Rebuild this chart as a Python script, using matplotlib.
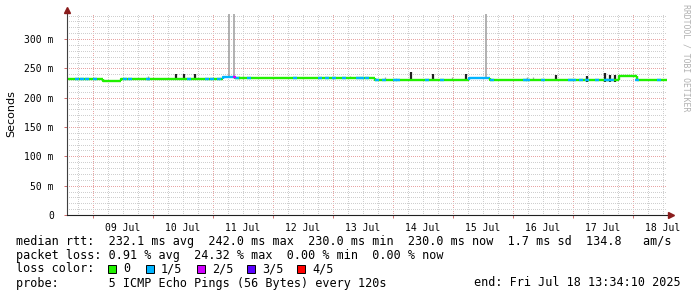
import numpy as np
import matplotlib
matplotlib.use('Agg')
import matplotlib.pyplot as plt
import matplotlib.dates as mdates
from matplotlib.ticker import MultipleLocator, FuncFormatter
from matplotlib.patches import Rectangle
from datetime import datetime, timedelta

# time is hours after the graph start
start = datetime(2025, 7, 8, 13, 34, 10)
span_h = 240

# median rtt, piecewise (start hour, ms, loss class)
seg_start_h = [0, 14.4, 20.4, 21.6, 62.4, 67.2, 73.2, 123.2, 160.8, 169.2, 196.4, 220.8, 228.0]
seg_median_ms = [232.0, 229.0, 228.2, 232.0, 235.8, 233.2, 233.8, 230.8, 234.0, 230.8, 229.6, 237.6, 230.2]
seg_loss = [0, 0, 0, 0, 1, 0, 0, 0, 1, 0, 0, 0, 0]

# short 1/5 and 2/5 loss bits on the median line
speck_h = [4.0, 6.0, 8.0, 11.2, 23.2, 25.2, 32.4, 48.8, 56.0, 58.0, 60.8, 68.0, 72.8, 91.2,
           101.2, 104.0, 106.8, 110.8, 116.4, 118.0, 120.0, 124.0, 126.8, 131.2, 132.4,
           144.0, 150.0, 170.0, 183.2, 184.4, 190.4, 201.2, 202.8, 205.6, 208.0, 212.0,
           215.6, 216.8, 218.0, 228.0, 236.8]
speck_loss = [1] * len(speck_h)
speck_h += [67.0]
speck_loss += [2]

# dark smoke near the median (hour, top ms)
smoke_h = [43.6, 46.8, 51.2, 137.6, 146.4, 159.6, 195.6, 208.0, 215.0, 217.2, 219.2]
smoke_top_ms = [240, 241, 241, 244, 240, 241, 239, 237, 242, 238, 238]

# light smoke
light_h = [32.4, 68.8, 70.4, 113.2, 127.2, 154.0, 184.0, 186.4]
light_top_ms = [237, 237, 237, 237, 235, 235, 235, 235]

# tall outliers running off the top
spike_h = [64.8, 66.8, 167.6]
spike_top_ms = [400, 400, 400]

loss_colors = ['#20f000', '#00b4ff', '#d000ff', '#5a00ff', '#ff0000']
loss_labels = ['0', '1/5', '2/5', '3/5', '4/5']

legend_lines = [
    'median rtt:  232.1 ms avg  242.0 ms max  230.0 ms min  230.0 ms now  1.7 ms sd  134.8   am/s',
    'packet loss: 0.91 % avg  24.32 % max  0.00 % min  0.00 % now',
]
probe_text = 'probe:       5 ICMP Echo Pings (56 Bytes) every 120s'
end_text = 'end: Fri Jul 18 13:34:10 2025'


def t(h):
    return mdates.date2num(start + timedelta(hours=float(h)))


def median_at(h):
    i = np.searchsorted(seg_start_h, h, side='right') - 1
    return seg_median_ms[i]


W, H = 697, 297
fig = plt.figure(figsize=(W / 100, H / 100), dpi=100)
fig.set_facecolor('white')
ax = fig.add_axes([67 / W, 1 - 215 / H, 600 / W, 201 / H])
ax.set_facecolor('white')
mono = 'DejaVu Sans Mono'

ax.set_xlim(t(0), t(span_h))
ax.set_ylim(0, 0.3427)

# grid
ax.xaxis.set_major_locator(mdates.DayLocator())
ax.xaxis.set_minor_locator(mdates.HourLocator(byhour=[6, 12, 18]))
ax.xaxis.set_major_formatter(FuncFormatter(lambda v, p: ''))
ax.xaxis.set_minor_formatter(FuncFormatter(
    lambda v, p: mdates.num2date(v).strftime('%d %b') if mdates.num2date(v).hour == 12 else ''))
ax.yaxis.set_major_locator(MultipleLocator(0.05))
ax.yaxis.set_minor_locator(MultipleLocator(0.01))
ax.yaxis.set_major_formatter(FuncFormatter(
    lambda v, p: '0' if abs(v) < 1e-9 else '%d m' % round(v * 1000)))

ax.grid(which='minor', color='#cfcfcf', lw=0.72, ls=(0, (1, 2)), antialiased=False)
ax.grid(which='major', color='#e8a4a4', lw=0.72, ls=(0, (1, 2)), antialiased=False)
ax.set_axisbelow(True)

ax.tick_params(which='major', axis='both', length=2.5, width=0.72, color='#d07070',
               labelsize=7, labelfontfamily=mono, pad=7)
ax.tick_params(which='minor', axis='both', length=0, labelsize=7, labelfontfamily=mono)
ax.tick_params(which='minor', axis='x', pad=6)

for s in ['top', 'right', 'left', 'bottom']:
    ax.spines[s].set_visible(False)
ax.plot([0, 0], [0, 1.01], transform=ax.transAxes, color='#404040', lw=0.8, clip_on=False, zorder=5)
ax.plot([0, 1.005], [0, 0], transform=ax.transAxes, color='#202020', lw=0.8, clip_on=False, zorder=5)
ax.plot([0], [1.022], marker='^', ms=4, color='#8a1c1c', transform=ax.transAxes, clip_on=False, zorder=6)
ax.plot([1.006], [0], marker='>', ms=4, color='#8a1c1c', transform=ax.transAxes, clip_on=False, zorder=6)

# smoke
for h, top in zip(spike_h, spike_top_ms):
    ax.vlines(t(h), (median_at(h) - 1) / 1000, top / 1000, color='#a4a4a4', lw=1.2, zorder=2)
for h, top in zip(light_h, light_top_ms):
    ax.vlines(t(h), (median_at(h) - 1) / 1000, top / 1000, color='#a8a8a8', lw=0.9, zorder=2)
for h, top in zip(smoke_h, smoke_top_ms):
    ax.vlines(t(h), (median_at(h) - 2) / 1000, top / 1000, color='#202020', lw=1.6, zorder=2)

# median line coloured by loss
prev = seg_median_ms[0]
for i, h0 in enumerate(seg_start_h):
    h1 = seg_start_h[i + 1] if i + 1 < len(seg_start_h) else span_h
    v = seg_median_ms[i]
    ax.plot([t(h0), t(h0), t(h1)], [prev / 1000, v / 1000, v / 1000],
            color=loss_colors[seg_loss[i]], lw=1.7, solid_capstyle='butt', zorder=3)
    prev = v
for h, lc in zip(speck_h, speck_loss):
    v = median_at(h) / 1000
    ax.plot([t(h - 0.7), t(h + 0.7)], [v, v], color=loss_colors[lc], lw=1.7,
            solid_capstyle='butt', zorder=4)

# texts
fig.text(11 / W, 1 - 114 / H, 'Seconds', rotation=90, ha='center', va='center',
         fontsize=8, family='DejaVu Sans')
fig.text(686 / W, 1 - 4 / H, 'RRDTOOL / TOBI OETIKER', rotation=270, ha='center', va='top',
         fontsize=5.9, family=mono, color='#b0b0b0')

fs = 8.5
for k, line in enumerate(legend_lines):
    fig.text(16 / W, 1 - (241 + 14 * k) / H, line, ha='left', va='center', fontsize=fs, family=mono)
fig.text(16 / W, 1 - 269 / H, 'loss color:', ha='left', va='center', fontsize=fs, family=mono)
box_x = [108, 146, 197, 247, 297]
for bx, c, lab in zip(box_x, loss_colors, loss_labels):
    fig.patches.append(Rectangle((bx / W, 1 - 273 / H), 8 / W, 8 / H, transform=fig.transFigure,
                                 facecolor=c, edgecolor='black', lw=0.7))
    fig.text((bx + 15) / W, 1 - 269 / H, lab, ha='left', va='center', fontsize=fs, family=mono)
fig.text(16 / W, 1 - 283 / H, probe_text, ha='left', va='center', fontsize=fs, family=mono)
fig.text(681 / W, 1 - 283 / H, end_text, ha='right', va='center', fontsize=fs, family=mono)

fig.savefig('out.png', dpi=100, facecolor='white')
